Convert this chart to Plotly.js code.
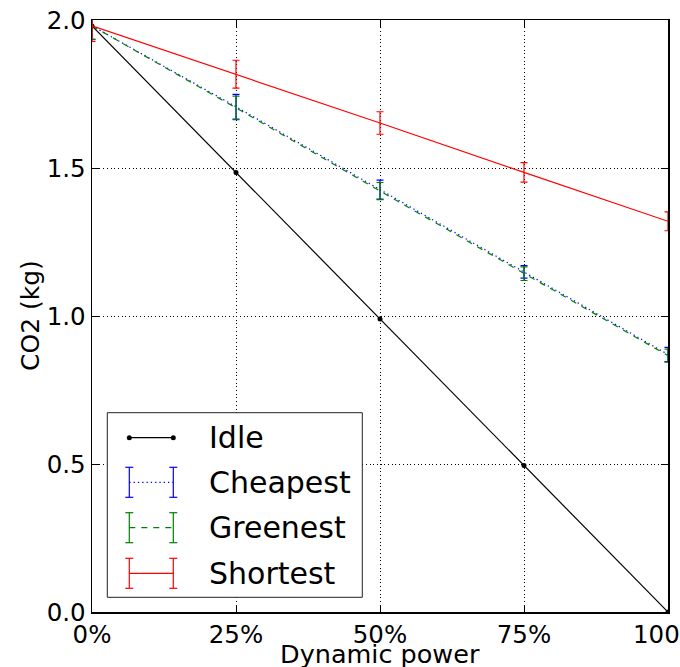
<!DOCTYPE html>
<html>
<head>
<meta charset="utf-8">
<script src="https://cdn.plot.ly/plotly-3.0.1.min.js"></script>
<style>
  html, body { margin: 0; padding: 0; background: #fff; }
  #chart { width: 680px; height: 667px; }
</style>
</head>
<body>
<div id="chart"></div>
<script>
// ---- data ----
const dynamicPower = [0, 25, 50, 75, 100];
const tickLabels = ["0%", "25%", "50%", "75%", "100%"];
const yTickVals = [0, 0.5, 1.0, 1.5, 2.0];
const yTickLabels = ["0.0", "0.5", "1.0", "1.5", "2.0"];
const idle = [1.98, 1.485, 0.99, 0.495, 0.0];
const cheapest = [1.98, 1.707, 1.427, 1.149, 0.870];
const cheapestErr = [0.045, 0.042, 0.032, 0.021, 0.024];
const greenest = [1.98, 1.703, 1.422, 1.143, 0.866];
const greenestErr = [0.045, 0.040, 0.029, 0.023, 0.022];
const shortest = [1.98, 1.817, 1.652, 1.485, 1.320];
const shortestErr = [0.052, 0.047, 0.038, 0.033, 0.032];
const seriesNames = ["Idle", "Cheapest", "Greenest", "Shortest"];
const xTitle = "Dynamic power";
const yTitle = "CO2 (kg)";

// ---- layout geometry ----
const W = 680, H = 667;
const L = 92, R = 668, T = 20, B = 612;
const px = p => (p - L) / (R - L);
const py = p => (B - p) / (B - T);
const FONT = "DejaVu Sans";

function errTrace(name, y, err, color, dash) {
  return {
    type: "scatter", mode: "lines", name: name,
    x: dynamicPower, y: y,
    line: { color: color, width: 1.2, dash: dash },
    error_y: { type: "data", array: err, visible: true, color: color, thickness: 1.2, width: 3.5 },
    showlegend: false
  };
}

const traces = [
  {
    type: "scatter", mode: "lines+markers", name: seriesNames[0],
    x: dynamicPower, y: idle,
    line: { color: "black", width: 1.2 },
    marker: { color: "black", size: 5 },
    showlegend: false
  },
  errTrace(seriesNames[1], cheapest, cheapestErr, "#0000ff", "1.3px,3px"),
  errTrace(seriesNames[2], greenest, greenestErr, "#008000", "6px,6px"),
  errTrace(seriesNames[3], shortest, shortestErr, "#ff0000", "solid")
];

// ---- custom legend (matplotlib-style) ----
const legBox = { x0: 107.3, x1: 362.3, y0: 412.7, y1: 597.3 };
const rowY = [437.7, 482.3, 527.7, 573.3];
const sampleX0 = 129.3, sampleX1 = 173.3, textX = 207.3;
const legStyles = [
  { color: "black", dash: "solid", err: false },
  { color: "#0000ff", dash: "1.3px,3px", err: true },
  { color: "#008000", dash: "6px,6px", err: true },
  { color: "#ff0000", dash: "solid", err: true }
];
const shapes = [{
  type: "rect", xref: "paper", yref: "paper", layer: "above",
  x0: px(legBox.x0), x1: px(legBox.x1), y0: py(legBox.y1), y1: py(legBox.y0),
  line: { color: "#222", width: 1 }, fillcolor: "white"
}];
const annotations = [];
seriesNames.forEach((n, i) => {
  const s = legStyles[i], yy = rowY[i];
  shapes.push({
    type: "line", xref: "paper", yref: "paper", layer: "above",
    x0: px(sampleX0), x1: px(sampleX1), y0: py(yy), y1: py(yy),
    line: { color: s.color, width: 1.2, dash: s.dash }
  });
  if (s.err) {
    [sampleX0, sampleX1].forEach(xx => {
      shapes.push({ type: "line", xref: "paper", yref: "paper", layer: "above",
        x0: px(xx), x1: px(xx), y0: py(yy - 15), y1: py(yy + 15),
        line: { color: s.color, width: 1.2 } });
      [yy - 15, yy + 15].forEach(yc => {
        shapes.push({ type: "line", xref: "paper", yref: "paper", layer: "above",
          x0: px(xx - 4), x1: px(xx + 4), y0: py(yc), y1: py(yc),
          line: { color: s.color, width: 1.2 } });
      });
    });
  } else {
    [sampleX0, sampleX1].forEach(xx => {
      shapes.push({ type: "circle", xref: "paper", yref: "paper", layer: "above",
        x0: px(xx - 2.5), x1: px(xx + 2.5), y0: py(yy + 2.5), y1: py(yy - 2.5),
        line: { color: "black", width: 0 }, fillcolor: "black" });
    });
  }
  annotations.push({
    xref: "paper", yref: "paper", x: px(textX), y: py(yy),
    xanchor: "left", yanchor: "middle", showarrow: false,
    text: n, font: { family: FONT, size: 30, color: "black" }
  });
});

// axis titles as annotations (placed like matplotlib's labels)
annotations.push({
  xref: "paper", yref: "paper", x: 0.5, y: py(671),
  xanchor: "center", yanchor: "bottom", showarrow: false,
  text: xTitle, font: { family: FONT, size: 25.5, color: "black" }
});
annotations.push({
  xref: "paper", yref: "paper", x: px(30), y: py(316),
  xanchor: "center", yanchor: "middle", showarrow: false, textangle: -90,
  text: yTitle, font: { family: FONT, size: 25, color: "black" }
});

const axisCommon = {
  showline: true, linecolor: "black", linewidth: 1.5, mirror: "ticks",
  ticks: "inside", ticklen: 7, tickwidth: 1, tickcolor: "black",
  showgrid: true, gridcolor: "black", gridwidth: 1, griddash: "1px,2.7px",
  zeroline: false,
  tickfont: { family: FONT, size: 24.5, color: "black" }
};

const layout = {
  width: W, height: H,
  margin: { l: L, r: W - R, t: T, b: H - B, pad: 0 },
  paper_bgcolor: "white", plot_bgcolor: "white",
  font: { family: FONT, color: "black" },
  showlegend: false,
  xaxis: Object.assign({}, axisCommon, {
    range: [0, 100], tickmode: "array", tickvals: dynamicPower, ticktext: tickLabels,
    ticklabeloverflow: "allow"
  }),
  yaxis: Object.assign({}, axisCommon, {
    range: [0, 2], tickmode: "array", tickvals: yTickVals, ticktext: yTickLabels,
    ticklabeloverflow: "allow"
  }),
  shapes: shapes,
  annotations: annotations
};

Plotly.newPlot("chart", traces, layout, { staticPlot: true, displayModeBar: false });
</script>
</body>
</html>
